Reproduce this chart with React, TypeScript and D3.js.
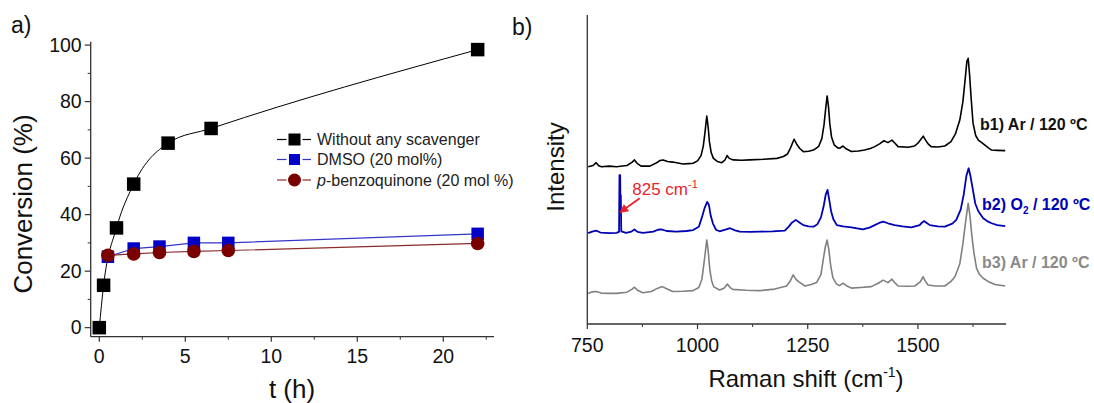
import React from "react";
import * as d3 from "d3";

// ---------- Panel a data ----------
const tNone = [0, 0.25, 1, 2, 4, 6.5, 22];
const convNone = [0, 15, 35.3, 50.8, 65.3, 70.5, 98.4];
const tDmso = [0.5, 2, 3.5, 5.5, 7.5, 22];
const convDmso = [25.1, 28.0, 28.7, 30.0, 30.0, 33.2];
const tBq = [0.5, 2, 3.5, 5.5, 7.5, 22];
const convBq = [25.6, 26.1, 26.6, 27.0, 27.3, 29.8];
const xTicksA = [0, 5, 10, 15, 20];
const xMinorA = [2.5, 7.5, 12.5, 17.5, 22.5];
const yTicksA = [0, 20, 40, 60, 80, 100];
const yMinorA = [10, 30, 50, 70, 90];
const legendA = ["Without any scavenger", "DMSO (20 mol%)", "-benzoquinone (20 mol %)"];

// ---------- Panel b data (Raman shift cm-1, intensity a.u.) ----------
const ramanB1: [number, number][] = [
  [752, 50.9], [763, 51.3], [770, 52.2], [776, 51.2], [782, 50.9], [800, 51.1], [816, 50.9],
  [840, 51.3], [852, 52.4], [857, 53.1], [863, 52.0], [872, 51.1], [892, 51.1], [905, 52.0],
  [915, 52.9], [922, 53.1], [932, 52.6], [944, 52.4], [967, 51.8], [980, 51.9], [990, 52.0],
  [1000, 52.8], [1008, 54.5], [1013, 57.5], [1017, 62.0], [1021, 67.3], [1024, 64.0],
  [1027, 59.0], [1031, 55.5], [1036, 53.6], [1045, 52.6], [1055, 52.2], [1062, 53.0],
  [1067, 54.5], [1072, 53.6], [1081, 53.1], [1100, 53.0], [1119, 53.1], [1150, 53.3],
  [1180, 53.6], [1195, 54.2], [1204, 55.0], [1211, 57.0], [1219, 59.8], [1225, 58.2],
  [1232, 56.8], [1240, 55.8], [1252, 55.9], [1263, 56.3], [1275, 57.5], [1282, 60.0],
  [1287, 64.5], [1291, 70.0], [1294, 73.8], [1297, 70.5], [1300, 65.0], [1304, 60.5],
  [1310, 58.0], [1318, 57.0], [1323, 56.9], [1330, 57.6], [1337, 56.7], [1349, 55.8],
  [1365, 56.0], [1379, 56.3], [1392, 56.8], [1402, 57.4], [1413, 58.3], [1423, 59.3],
  [1432, 58.7], [1441, 59.5], [1448, 58.5], [1455, 57.4], [1478, 57.2], [1492, 57.6],
  [1500, 58.5], [1506, 59.6], [1512, 60.8], [1517, 59.6], [1523, 58.3], [1530, 57.4],
  [1545, 57.3], [1561, 57.6], [1575, 59.0], [1585, 61.5], [1595, 66.0], [1602, 72.0],
  [1607, 79.0], [1611, 85.0], [1614, 86.0], [1617, 81.0], [1621, 72.5], [1625, 65.0],
  [1631, 61.0], [1637, 59.5], [1644, 58.8], [1652, 57.9], [1660, 57.0], [1667, 56.3],
  [1680, 56.2], [1698, 56.1],
];
const ramanB2: [number, number][] = [
  [752, 29.4], [761, 29.9], [770, 30.2], [780, 29.6], [801, 29.4], [816, 29.5], [822, 29.8],
  [823, 48.2], [824.5, 48.2], [825, 41.7], [826, 41.7], [827, 30.0], [838, 29.5], [850, 29.9],
  [857, 30.6], [864, 29.8], [876, 29.5], [900, 29.9], [910, 30.5], [918, 30.6], [930, 30.1],
  [952, 29.9], [975, 30.1], [990, 30.4], [1003, 31.5], [1010, 34.5], [1016, 37.5],
  [1022, 39.5], [1026, 38.5], [1030, 35.0], [1035, 32.5], [1042, 30.5], [1050, 30.0],
  [1065, 30.6], [1074, 31.0], [1085, 30.3], [1096, 29.9], [1120, 29.8], [1142, 29.9],
  [1170, 30.0], [1198, 30.2], [1207, 31.5], [1214, 32.8], [1223, 33.7], [1232, 32.8],
  [1240, 32.0], [1252, 31.6], [1263, 31.5], [1272, 32.3], [1280, 34.5], [1286, 38.0],
  [1291, 42.0], [1295, 43.4], [1299, 40.0], [1303, 36.5], [1308, 34.0], [1316, 32.0],
  [1330, 31.6], [1349, 31.3], [1375, 30.6], [1390, 31.2], [1402, 32.0], [1412, 32.7],
  [1421, 33.1], [1432, 32.6], [1447, 32.0], [1465, 31.6], [1485, 31.3], [1504, 32.0],
  [1509, 32.8], [1514, 33.3], [1520, 32.7], [1527, 32.0], [1545, 31.6], [1561, 31.5],
  [1578, 32.5], [1587, 33.7], [1597, 37.0], [1604, 42.0], [1610, 48.0], [1615, 50.4],
  [1619, 48.0], [1624, 44.0], [1630, 39.0], [1637, 36.5], [1648, 34.2], [1657, 33.3],
  [1667, 32.6], [1680, 32.0], [1698, 31.7],
];
const ramanB3: [number, number][] = [
  [752, 9.9], [761, 10.4], [770, 10.5], [782, 10.0], [800, 9.9], [816, 9.9], [840, 10.3],
  [851, 11.2], [857, 11.9], [864, 10.9], [876, 10.1], [895, 10.5], [910, 11.6], [920, 12.1],
  [930, 11.4], [944, 10.5], [967, 10.6], [990, 10.8], [1003, 11.8], [1010, 14.5],
  [1015, 20.0], [1021, 27.2], [1024, 24.0], [1028, 17.5], [1032, 14.0], [1037, 12.0],
  [1050, 11.0], [1060, 11.6], [1068, 12.9], [1074, 11.8], [1080, 11.2], [1110, 10.9],
  [1142, 10.8], [1175, 11.3], [1202, 12.3], [1210, 13.8], [1217, 15.9], [1223, 14.5],
  [1229, 13.7], [1244, 12.3], [1258, 12.8], [1270, 13.4], [1280, 16.0], [1285, 20.7],
  [1290, 25.0], [1294, 27.2], [1298, 24.0], [1302, 19.0], [1307, 15.0], [1315, 13.0],
  [1322, 12.4], [1330, 13.2], [1338, 12.4], [1349, 11.6], [1370, 11.8], [1394, 12.1],
  [1410, 13.2], [1421, 14.2], [1432, 13.4], [1441, 14.5], [1448, 13.3], [1455, 12.3],
  [1475, 12.2], [1493, 12.3], [1505, 13.6], [1512, 15.3], [1517, 13.8], [1523, 12.6],
  [1540, 12.3], [1561, 12.3], [1575, 13.8], [1584, 15.3], [1595, 19.5], [1602, 26.0],
  [1608, 33.0], [1614, 39.1], [1618, 35.0], [1622, 29.0], [1627, 23.0], [1633, 18.0],
  [1640, 16.0], [1648, 14.8], [1660, 13.7], [1675, 12.8], [1698, 12.3],
];
const xTicksB = [750, 1000, 1250, 1500];
const xMinorB = [875, 1125, 1375, 1625];
const spikeLabel = { wn: 852, inten: 41.7 };
const arrowFrom = { wn: 869, inten: 40.7 };
const arrowTo = { wn: 826, inten: 36.3 };

const FONT = "'Liberation Sans', Arial, Helvetica, sans-serif";

export default function App() {
  const xA = d3.scaleLinear().domain([-0.5, 22.95]).range([90.7, 494]);
  const yA = d3.scaleLinear().domain([-3.2, 101.2]).range([336.7, 41.7]);
  const xB = d3.scaleLinear().domain([750, 1700]).range([587.3, 1006.1]);
  const yB = d3.scaleLinear().domain([0, 100]).range([324, 15]);

  const lineNone = d3
    .line<number>()
    .x((_, i) => xA(tNone[i]))
    .y((d) => yA(d))
    .curve(d3.curveMonotoneX)(convNone) as string;
  const lineDmso = d3
    .line<number>()
    .x((_, i) => xA(tDmso[i]))
    .y((d) => yA(d))(convDmso) as string;
  const lineBq = d3
    .line<number>()
    .x((_, i) => xA(tBq[i]))
    .y((d) => yA(d))(convBq) as string;

  const spec = d3
    .line<[number, number]>()
    .x((d) => xB(d[0]))
    .y((d) => yB(d[1]));

  const axisColor = "#333";
  const sq = 13.5;

  const legendRows = [139.5, 159.5, 180];
  const legX0 = 277, legX1 = 311, legM = 294.5, legText = 317;

  return (
    <svg
      width={1094}
      height={403}
      style={{ position: "absolute", left: 0, top: 0, background: "#fff" }}
      fontFamily={FONT}
    >
      <rect x={0} y={0} width={1094} height={403} fill="#fff" />

      {/* ---------------- Panel a ---------------- */}
      <text x={11} y={33} fontSize={23} fill="#111">a)</text>

      <line x1={xA(-0.5)} x2={xA(-0.5)} y1={yA(101.2)} y2={yA(-3.2)} stroke={axisColor} strokeWidth={1.3} />
      <line x1={xA(-0.5)} x2={xA(22.95)} y1={yA(-3.2)} y2={yA(-3.2)} stroke={axisColor} strokeWidth={1.3} />
      {yTicksA.map((v) => (
        <g key={"ya" + v}>
          <line x1={xA(-0.5) - 6} x2={xA(-0.5)} y1={yA(v)} y2={yA(v)} stroke={axisColor} strokeWidth={1.2} />
          <text x={xA(-0.5) - 9} y={yA(v)} dy="0.35em" textAnchor="end" fontSize={19.5} fill="#111">{v}</text>
        </g>
      ))}
      {yMinorA.map((v) => (
        <line key={"yam" + v} x1={xA(-0.5) - 3} x2={xA(-0.5)} y1={yA(v)} y2={yA(v)} stroke={axisColor} strokeWidth={1} />
      ))}
      {xTicksA.map((v) => (
        <g key={"xa" + v}>
          <line x1={xA(v)} x2={xA(v)} y1={yA(-3.2)} y2={yA(-3.2) + 5} stroke={axisColor} strokeWidth={1.2} />
          <text x={xA(v)} y={363} textAnchor="middle" fontSize={19.5} fill="#111">{v}</text>
        </g>
      ))}
      {xMinorA.map((v) => (
        <line key={"xam" + v} x1={xA(v)} x2={xA(v)} y1={yA(-3.2)} y2={yA(-3.2) + 3} stroke={axisColor} strokeWidth={1} />
      ))}

      <text transform={`translate(32,204) rotate(-90)`} textAnchor="middle" fontSize={26} fill="#111">
        Conversion (%)
      </text>
      <text x={292} y={398} textAnchor="middle" fontSize={26} fill="#111">t (h)</text>

      {/* series */}
      <path d={lineNone} fill="none" stroke="#000" strokeWidth={1} />
      {convNone.map((v, i) => (
        <rect key={"n" + i} x={xA(tNone[i]) - sq / 2} y={yA(v) - sq / 2} width={sq} height={sq} fill="#000" />
      ))}
      <path d={lineDmso} fill="none" stroke="#3535c8" strokeWidth={1.2} />
      {convDmso.map((v, i) => (
        <rect key={"d" + i} x={xA(tDmso[i]) - 6.25} y={yA(v) - 6.25} width={12.5} height={12.5} fill="#0000c8" />
      ))}
      <path d={lineBq} fill="none" stroke="#8a2c2c" strokeWidth={1.2} />
      {convBq.map((v, i) => (
        <circle key={"b" + i} cx={xA(tBq[i])} cy={yA(v)} r={6.8} fill="#7a0000" />
      ))}

      {/* legend */}
      {legendRows.map((y, i) => {
        const color = i === 0 ? "#000" : i === 1 ? "#3535c8" : "#8a2c2c";
        return (
          <g key={"leg" + i}>
            <line x1={legX0} x2={legM - 8} y1={y} y2={y} stroke={color} strokeWidth={1.2} />
            <line x1={legM + 8} x2={legX1} y1={y} y2={y} stroke={color} strokeWidth={1.2} />
            {i === 0 && <rect x={legM - 6} y={y - 6} width={12} height={12} fill="#000" />}
            {i === 1 && <rect x={legM - 5.5} y={y - 5.5} width={11} height={11} fill="#0000c8" />}
            {i === 2 && <circle cx={legM} cy={y} r={6.5} fill="#7a0000" />}
            <text x={legText} y={y} dy="0.35em" fontSize={16} fill="#222">
              {i === 2 ? (
                <>
                  <tspan fontStyle="italic">p</tspan>
                  {legendA[i]}
                </>
              ) : (
                legendA[i]
              )}
            </text>
          </g>
        );
      })}

      {/* ---------------- Panel b ---------------- */}
      <text x={512} y={35} fontSize={23} fill="#111">b)</text>

      <line x1={xB(750)} x2={xB(750)} y1={yB(100)} y2={yB(0)} stroke={axisColor} strokeWidth={1.3} />
      <line x1={xB(750)} x2={xB(1700)} y1={yB(0)} y2={yB(0)} stroke={axisColor} strokeWidth={1.3} />
      {xTicksB.map((v) => (
        <g key={"xb" + v}>
          <line x1={xB(v)} x2={xB(v)} y1={yB(0)} y2={yB(0) + 5} stroke={axisColor} strokeWidth={1.2} />
          <text x={xB(v)} y={352} textAnchor="middle" fontSize={19.5} fill="#111">{v}</text>
        </g>
      ))}
      {xMinorB.map((v) => (
        <line key={"xbm" + v} x1={xB(v)} x2={xB(v)} y1={yB(0)} y2={yB(0) + 3} stroke={axisColor} strokeWidth={1} />
      ))}

      <text transform={`translate(564,167) rotate(-90)`} textAnchor="middle" fontSize={24} fill="#111">
        Intensity
      </text>
      <text x={806} y={387} textAnchor="middle" fontSize={24} fill="#111">
        Raman shift (cm
        <tspan fontSize={14} dy={-10}>-1</tspan>
        <tspan dy={10}>)</tspan>
      </text>

      <path d={spec(ramanB3) as string} fill="none" stroke="#808080" strokeWidth={1.6} strokeLinejoin="round" />
      <path d={spec(ramanB2) as string} fill="none" stroke="#0000b4" strokeWidth={1.8} strokeLinejoin="round" />
      <path d={spec(ramanB1) as string} fill="none" stroke="#000" strokeWidth={1.6} strokeLinejoin="round" />

      {/* annotation */}
      <defs>
        <marker id="arr" viewBox="0 0 10 10" refX="8" refY="5" markerWidth="5" markerHeight="5" orient="auto">
          <path d="M0,0 L10,5 L0,10 z" fill="#e8232b" />
        </marker>
      </defs>
      <line
        x1={xB(arrowFrom.wn)}
        y1={yB(arrowFrom.inten)}
        x2={xB(arrowTo.wn)}
        y2={yB(arrowTo.inten)}
        stroke="#e8232b"
        strokeWidth={1.8}
        markerEnd="url(#arr)"
      />
      <text x={xB(spikeLabel.wn)} y={yB(spikeLabel.inten)} fontSize={17} fill="#e8232b">
        825 cm
        <tspan fontSize={11} dy={-7}>-1</tspan>
      </text>

      <text x={980} y={130} fontSize={16} fontWeight="bold" fill="#111">b1) Ar / 120 ºC</text>
      <text x={982} y={210} fontSize={16} fontWeight="bold" fill="#0000b4">
        b2) O<tspan fontSize={10} dy={4}>2</tspan>
        <tspan dy={-4}> / 120 ºC</tspan>
      </text>
      <text x={982} y={268} fontSize={16} fontWeight="bold" fill="#8a8a8a">b3) Ar / 120 ºC</text>
    </svg>
  );
}
